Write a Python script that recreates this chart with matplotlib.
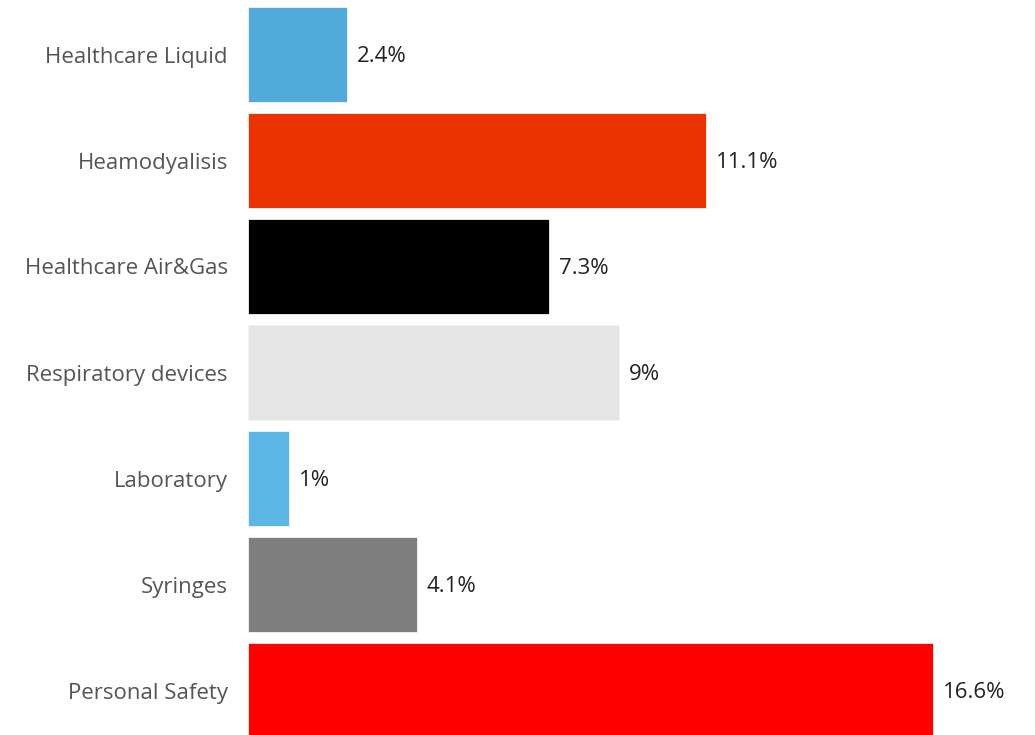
import matplotlib.pyplot as plt

categories = ["Healthcare Liquid", "Heamodyalisis", "Healthcare Air&Gas",
              "Respiratory devices", "Laboratory", "Syringes", "Personal Safety"]
values = [2.4, 11.1, 7.3, 9, 1, 4.1, 16.6]
value_labels = ["2.4%", "11.1%", "7.3%", "9%", "1%", "4.1%", "16.6%"]
colors = ["#52A9DC", "#EB3300", "#000000", "#E5E5E5", "#5DB6E6", "#7F7F7F", "#FF0000"]

plt.rcParams['font.family'] = ['Open Sans', 'DejaVu Sans']

fig = plt.figure(figsize=(10.35, 7.35), dpi=100)
ax = fig.add_axes([248 / 1035, 0, 1 - 248 / 1035, 1])

y = list(range(len(categories)))
ax.barh(y, values, height=0.9, color=colors, edgecolor="#f4f4f4", linewidth=0.6)

ax.set_xlim(0, 787 / 41.27)
ax.set_ylim((735 - 54.5) / 106, -54.5 / 106)

ax.set_yticks(y)
ax.set_yticklabels(categories, fontsize=16, color="#555555", va="center_baseline")
ax.tick_params(axis="y", length=0, pad=14.5)
ax.set_xticks([])
for s in ax.spines.values():
    s.set_visible(False)

for yi, v, lab in zip(y, values, value_labels):
    ax.annotate(lab, (v, yi), xytext=(7, 0), textcoords="offset points",
                va="center_baseline", ha="left", fontsize=16, color="#222222")

fig.savefig("out.png", dpi=100)
